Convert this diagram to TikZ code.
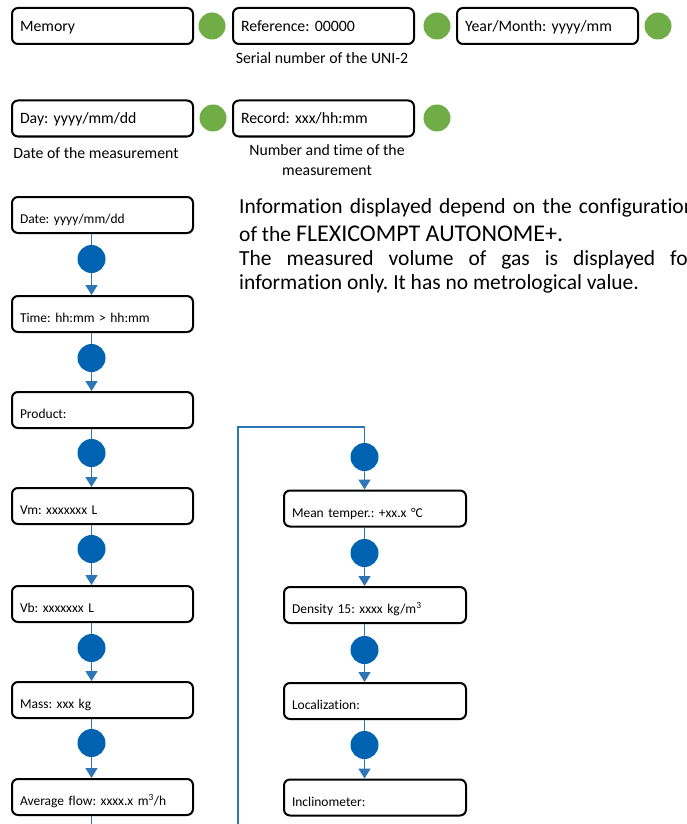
\documentclass[tikz,border=0pt]{standalone}
\usepackage{fontspec}
\setmainfont{Carlito}[Ligatures = NoCommon]
\usepackage{xcolor}
\usetikzlibrary{arrows.meta}
\definecolor{dotgreen}{RGB}{112,173,71}
\definecolor{dotblue}{RGB}{0,99,177}
\definecolor{lineblue}{RGB}{46,117,182}
\frenchspacing

\begin{document}
\begin{tikzpicture}[x = 1pt, y = -1pt,
  menubox/.style = {draw, rounded corners = 6pt, line width = 2pt, text width = 165pt, inner xsep = 8pt, minimum height = 36pt, align = left, text height = 13pt, text depth = 2pt, font = \fontsize{15.8}{18}\selectfont},
  listbox/.style = {menubox, text height = 17pt, text depth = 0pt, font = \fontsize{13.5}{16}\selectfont},
  gdot/.style = {circle, fill = dotgreen, minimum size = 27pt, inner sep = 0pt},
  bdot/.style = {circle, fill = dotblue, minimum size = 28pt, inner sep = 0pt},
  conn/.style = {lineblue, line width = 1.5pt},
  arr/.style = {conn, -{Triangle[width = 12pt, length = 10pt]}},
  note/.style = {font = \fontsize{15.8}{20}\selectfont, align = center, inner sep = 0pt}]
  \useasboundingbox (0, 0) rectangle (686, 824);

  \node [menubox] (memory) at (102.5, 26) {Memory};
  \node [gdot] (g1) at (212, 26) {};
  \node [menubox] (reference) at (323.5, 26) {Reference: 00000};
  \node [gdot] (g2) at (437, 26) {};
  \node [menubox] (yearmonth) at (547.5, 26) {Year/Month: yyyy/mm};
  \node [gdot] (g3) at (658, 26) {};
  \node [note] (serial) at (322, 58) {Serial number of the UNI-2};

  \node [menubox] (day) at (102.5, 118.5) {Day: yyyy/mm/dd};
  \node [gdot] (g4) at (213, 118) {};
  \node [menubox] (record) at (323.5, 118.5) {Record: xxx/hh:mm};
  \node [gdot] (g5) at (437, 118) {};
  \node [note] (datemeas) at (96, 153) {Date of the measurement};
  \node [note] (numtime) at (327, 160) {Number and time of the\\ measurement};

  \node [anchor = north west, inner sep = 0pt, text width = 456pt, align = justify, font = \fontsize{21.5}{24}\selectfont] (info) at (239, 198)
    {Information displayed depend on the configuration\vadjust{\vskip 4.5pt}\linebreak of the {\fontsize{24}{24}\selectfont FLEXICOMPT AUTONOME+.}\par
     The measured volume of gas is displayed for\linebreak information only. It has no metrological value.};

  \node [listbox] (date) at (102.5, 215) {Date: yyyy/mm/dd};
  \node [listbox] (time) at (102.5, 314) {Time: hh:mm > hh:mm};
  \node [listbox] (product) at (102.5, 410) {Product:};
  \node [listbox] (vm) at (102.5, 506) {Vm: xxxxxxx L};
  \node [listbox] (vb) at (102.5, 604) {Vb: xxxxxxx L};
  \node [listbox] (mass) at (102.5, 700) {Mass: xxx kg};
  \node [listbox] (flow) at (102.5, 797) {Average flow: xxxx.x m\textsuperscript{3}/h};
  \coordinate (flowend) at (91.5, 824);

  \node [bdot] (b1) at (91.5, 259) {};
  \node [bdot] (b2) at (91.5, 358) {};
  \node [bdot] (b3) at (91.5, 453) {};
  \node [bdot] (b4) at (91.5, 549) {};
  \node [bdot] (b5) at (91.5, 648) {};
  \node [bdot] (b6) at (91.5, 743) {};

  \draw [conn] (date.south -| b1) -- (b1);
  \draw [arr] (b1) -- (b1 |- time.north);
  \draw [conn] (time.south -| b2) -- (b2);
  \draw [arr] (b2) -- (b2 |- product.north);
  \draw [conn] (product.south -| b3) -- (b3);
  \draw [arr] (b3) -- (b3 |- vm.north);
  \draw [conn] (vm.south -| b4) -- (b4);
  \draw [arr] (b4) -- (b4 |- vb.north);
  \draw [conn] (vb.south -| b5) -- (b5);
  \draw [arr] (b5) -- (b5 |- mass.north);
  \draw [conn] (mass.south -| b6) -- (b6);
  \draw [arr] (b6) -- (b6 |- flow.north);
  \draw [conn] (flow.south -| flowend) -- (flowend);

  \node [listbox, text width = 166pt] (temper) at (375, 508.5) {Mean temper.: +xx.x °C};
  \node [listbox, text width = 166pt] (density) at (375, 605) {Density 15: xxxx kg/m\textsuperscript{3}};
  \node [listbox, text width = 166pt] (local) at (375, 701) {Localization:};
  \node [listbox, text width = 166pt] (incline) at (375, 797.5) {Inclinometer:};
  \coordinate (loopstart) at (238, 824);
  \coordinate (loopcorner) at (238, 427);

  \node [bdot] (r1) at (364.5, 457) {};
  \node [bdot] (r2) at (364.5, 553) {};
  \node [bdot] (r3) at (364.5, 650) {};
  \node [bdot] (r4) at (364.5, 745) {};

  \draw [conn] (loopstart) -- (loopcorner) -- (loopcorner -| r1) -- (r1);
  \draw [arr] (r1) -- (r1 |- temper.north);
  \draw [conn] (temper.south -| r2) -- (r2);
  \draw [arr] (r2) -- (r2 |- density.north);
  \draw [conn] (density.south -| r3) -- (r3);
  \draw [arr] (r3) -- (r3 |- local.north);
  \draw [conn] (local.south -| r4) -- (r4);
  \draw [arr] (r4) -- (r4 |- incline.north);
\end{tikzpicture}
\end{document}
